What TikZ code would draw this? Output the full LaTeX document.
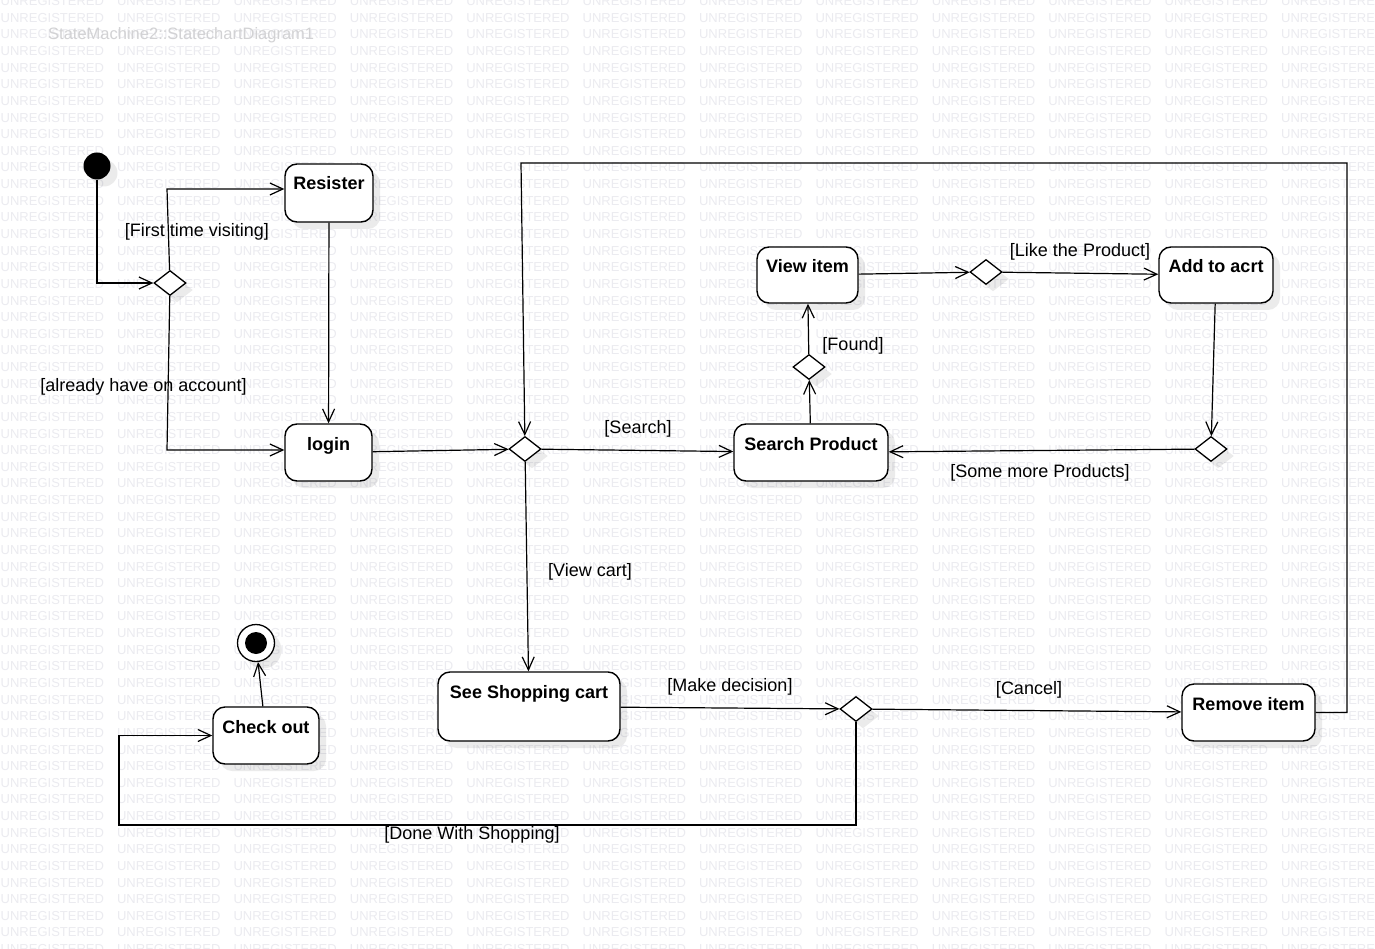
\documentclass[tikz,border=0pt]{standalone}
\usepackage{fontspec}
\setmainfont{Liberation Sans}
\usetikzlibrary{arrows.meta,shapes.geometric,shadows}
\definecolor{wmark}{RGB}{235,235,240}
\definecolor{titlegray}{RGB}{210,210,212}

\begin{document}
\begin{tikzpicture}[x=1pt,y=-1pt,
  softshadow/.style={drop shadow={shadow xshift=7pt, shadow yshift=-7pt, fill=black, opacity=0.08}},
  statebox/.style={draw=black, line width=1.4pt, rounded corners=12pt, fill=white,
    inner sep=0pt, text height=26pt, font=\fontsize{18}{20}\selectfont\bfseries, softshadow},
  choice/.style={diamond, draw=black, line width=1.3pt, fill=white, inner sep=0pt,
    minimum width=32pt, minimum height=25pt, softshadow},
  flow/.style={draw=black, line width=1.2pt, -{Straight Barb[length=13pt,width=12pt,line width=1.2pt]}},
  guard/.style={inner sep=0pt, font=\fontsize{18}{20}\selectfont},
  wm/.style={anchor=west, inner sep=0pt, text=wmark, font=\fontsize{13}{13}\selectfont}]

\useasboundingbox (0,0) rectangle (1375,949);
\fill[white] (0,0) rectangle (1375,949);

% tool watermark grid
\begin{scope}
  \clip (0,0) rectangle (1375,949);
  \foreach \r in {0,...,57} {
    \foreach \c in {0,...,11} {
      \node[wm] (wm-\r-\c) at ({0.5+\c*116.4},{1.2+\r*16.63}) {UNREGISTERED};
    }
  }
\end{scope}
\node[anchor=west, inner sep=0pt, text=titlegray, font=\fontsize{16.5}{18}\selectfont]
  (title) at (48,35) {StateMachine2::StatechartDiagram1};

% initial and final states
\node[circle, fill=black, minimum size=27pt, inner sep=0pt, softshadow] (init) at (97,166) {};
\node[circle, draw=black, line width=1.3pt, fill=white, minimum size=37pt, inner sep=0pt, softshadow] (final) at (256,643) {};
\node[circle, fill=black, minimum size=22pt, inner sep=0pt] (finaldot) at (final) {};

% activity states
\node[statebox, minimum width=88pt, text depth=32pt] (resister) at (329,193) {Resister};
\node[statebox, minimum width=87pt, text depth=31pt] (login) at (328.5,452.5) {login};
\node[statebox, minimum width=154pt, text depth=31pt] (search) at (811,452.5) {Search Product};
\node[statebox, minimum width=101pt, text depth=30pt] (view) at (807.5,275) {View item};
\node[statebox, minimum width=114pt, text depth=30pt] (addcart) at (1216,275) {Add to acrt};
\node[statebox, minimum width=182pt, text depth=43pt] (cart) at (529,706.5) {See Shopping cart};
\node[statebox, minimum width=133pt, text depth=31pt] (remove) at (1248.5,712.5) {Remove item};
\node[statebox, minimum width=106pt, text depth=31pt] (checkout) at (266,735.5) {Check out};

% decisions
\node[choice] (d1) at (170,283) {};
\node[choice] (d2) at (525,449) {};
\node[choice] (dfound) at (809,367) {};
\node[choice] (dlike) at (986,272) {};
\node[choice] (dmore) at (1211,449) {};
\node[choice] (ddec) at (856,709) {};

% bend points
\coordinate (loopR) at (1347,163);
\coordinate (loopL) at (521,163);
\coordinate (loopB) at (119,825);
\coordinate (up1) at (167,189);
\coordinate (dn1) at (167,450);

% transitions
\draw[flow] (init) |- (d1);
\draw[flow] (d1) -- (up1) -- (resister.west |- up1);
\draw[flow] (d1) -- (dn1) -- (login.west |- dn1);
\draw[flow] (resister) -- (login);
\draw[flow] (login) -- (d2);
\draw[flow] (d2) -- (search);
\draw[flow] (d2) -- (cart);
\draw[flow] (search) -- (dfound);
\draw[flow] (dfound) -- (view);
\draw[flow] (view) -- (dlike);
\draw[flow] (dlike) -- (addcart);
\draw[flow] (addcart) -- (dmore);
\draw[flow] (dmore) -- (search);
\draw[flow] (cart) -- (ddec);
\draw[flow] (ddec) -- (remove);
\draw[flow] (remove) -| (loopR) -- (loopL) -- (d2);
\draw[flow] (ddec) |- (loopB) |- (checkout);
\draw[flow] (checkout) -- (final);

% guards
\node[guard] (g1) at (197,232) {[First time visiting]};
\node[guard] (g2) at (143.5,387) {[already have on account]};
\node[guard] (g3) at (638,429) {[Search]};
\node[guard] (g4) at (590,572) {[View cart]};
\node[guard] (g5) at (853,346) {[Found]};
\node[guard] (g6) at (1080,252) {[Like the Product]};
\node[guard] (g7) at (1040,473) {[Some more Products]};
\node[guard] (g8) at (730,687) {[Make decision]};
\node[guard] (g9) at (1029,690) {[Cancel]};
\node[guard] (g10) at (472,835) {[Done With Shopping]};
\end{tikzpicture}
\end{document}
